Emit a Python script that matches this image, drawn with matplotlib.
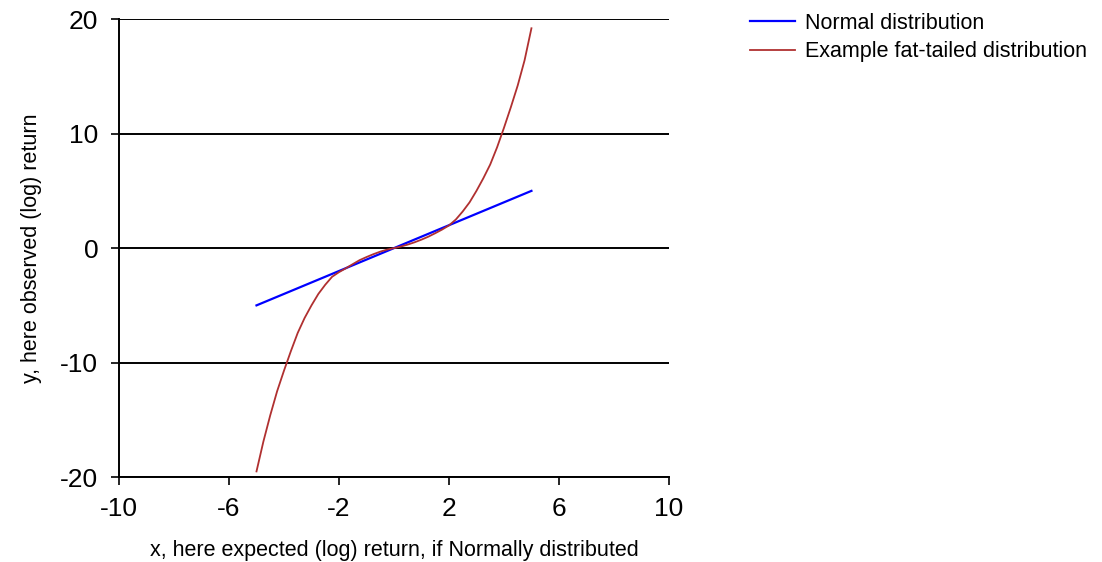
import matplotlib.pyplot as plt

plt.rcParams['font.family'] = ['Liberation Sans', 'DejaVu Sans']
plt.rcParams['axes.unicode_minus'] = False

# normal distribution: straight line
normal_x = [-5, 5]
normal_y = [-5, 5]

# fat-tailed example, points
fat_x = [-5.0, -4.75, -4.5, -4.25, -4.0, -3.75, -3.5, -3.25, -3.0, -2.75, -2.5,
         -2.25, -2.0, -1.75, -1.5, -1.25, -1.0, -0.75, -0.5, -0.25, 0.0,
         0.25, 0.5, 0.75, 1.0, 1.25, 1.5, 1.75, 2.0, 2.25, 2.5, 2.75, 3.0,
         3.25, 3.5, 3.75, 4.0, 4.25, 4.5, 4.75, 5.0]
fat_y = [-19.5, -16.9, -14.6, -12.5, -10.7, -9.0, -7.4, -6.1, -5.0, -4.0, -3.2,
         -2.5, -2.1, -1.76, -1.4, -1.05, -0.78, -0.53, -0.31, -0.13, 0.0,
         0.14, 0.31, 0.51, 0.74, 1.0, 1.3, 1.62, 1.98, 2.5, 3.2, 4.0, 5.0,
         6.1, 7.3, 8.8, 10.5, 12.3, 14.2, 16.4, 19.2]

x_ticks = [-10, -6, -2, 2, 6, 10]
y_ticks = [-20, -10, 0, 10, 20]

fig = plt.figure(figsize=(11.02, 5.62), dpi=100)
ax = fig.add_axes([0.108, 0.151, 0.499, 0.815])

for yt in y_ticks:
    ax.axhline(yt, color='black', lw=1.4, zorder=1)

ax.plot(normal_x, normal_y, color='#0000ff', lw=1.6, label='Normal distribution', zorder=3)
ax.plot(fat_x, fat_y, color='#b03030', lw=1.3, label='Example fat-tailed distribution', zorder=3)

ax.set_xlim(-10, 10)
ax.set_ylim(-20, 20)
ax.set_xticks(x_ticks)
ax.set_yticks(y_ticks)
ax.tick_params(labelsize=19, length=6, width=1.2, direction='out')
ax.tick_params(axis='x', pad=8)
ax.tick_params(axis='y', pad=9)
for s in ['top', 'right']:
    ax.spines[s].set_visible(False)
for s in ['left', 'bottom']:
    ax.spines[s].set_linewidth(1.4)

ax.set_xlabel('x, here expected (log) return, if Normally distributed', fontsize=15.5, labelpad=14)
ax.set_ylabel('y, here observed (log) return', fontsize=15.5, labelpad=13)

fig.legend(loc='upper left', bbox_to_anchor=(0.6806, 0.977), frameon=False,
           fontsize=15.5, handlelength=2.1, handletextpad=0.47, labelspacing=0.35,
           borderpad=0, borderaxespad=0)

fig.savefig('out.png', dpi=100)
